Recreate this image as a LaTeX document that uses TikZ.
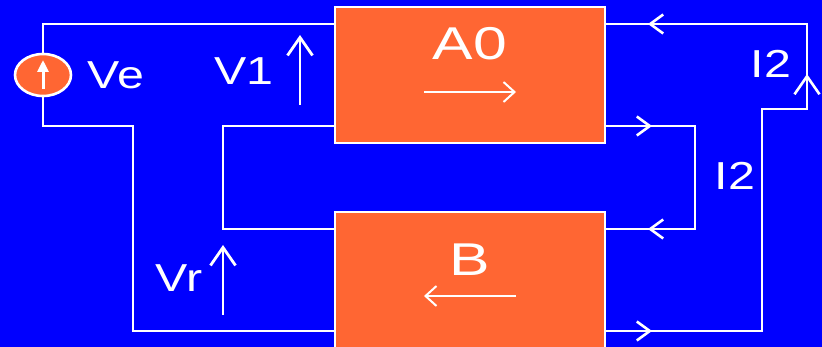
\documentclass[tikz,border=0pt]{standalone}
\usepackage{fontspec}
\setmainfont{Liberation Sans}
\newfontfamily\widefont[FakeStretch=1.24]{Liberation Sans}
\newfontfamily\titlefont[FakeStretch=1.32]{Liberation Sans}
\usetikzlibrary{arrows.meta,shapes.geometric}
\definecolor{bgblue}{RGB}{0,0,255}
\definecolor{boxorange}{RGB}{255,102,51}
\tikzset{
  wire/.style={draw=white,line width=2.6pt,line join=miter},
  block/.style={draw=white,line width=2.6pt,fill=boxorange,minimum width=270pt,minimum height=136pt,inner sep=0pt,outer sep=0pt},
  source/.style={ellipse,draw=white,line width=2.6pt,fill=boxorange,minimum width=56pt,minimum height=42pt,inner sep=0pt},
  chev/.style={draw=white,line width=2.6pt,-{Straight Barb[length=13pt,width=19pt,line width=2.6pt]}},
  tallchev/.style={draw=white,line width=2.6pt,-{Straight Barb[length=18pt,width=25pt,line width=2.6pt]}},
  longarrow/.style={draw=white,line width=2.8pt,-{Straight Barb[length=18pt,width=25pt,line width=2.8pt]}},
  thinarrow/.style={draw=white,line width=2pt,-{Straight Barb[length=11pt,width=20pt,line width=2pt]}},
  label/.style={text=white,inner sep=0pt,font=\widefont\fontsize{39}{39}\selectfont},
  title/.style={text=white,inner sep=0pt,font=\titlefont\fontsize{46}{46}\selectfont}
}
\begin{document}
\begin{tikzpicture}[x=1pt,y=-1pt]
\useasboundingbox (0,0) rectangle (822,347);
\clip (0,0) rectangle (822,347);
\fill[bgblue] (0,0) rectangle (822,347);
% blocks
\node[block] (A) at (470,75) {};
\node[block,minimum height=140pt,anchor=north] (B) at (470,212) {};
\node[source] (S) at (43,75) {};
% named points
\coordinate (A1) at (335,24);
\coordinate (A2) at (335,126);
\coordinate (B1) at (335,229);
\coordinate (B2) at (335,331);
\coordinate (A3) at (605,24);
\coordinate (A4) at (605,126);
\coordinate (B3) at (605,229);
\coordinate (B4) at (605,331);
% wires
\draw[wire] (S.north) -- (S.north |- A1) -- (A1);
\draw[wire] (S.south) -- (43,126) -- (133,126) -- (133,331) -- (B2);
\draw[wire] (A2) -- (223,126) -- (223,229) -- (B1);
\draw[wire] (A4) -- (695,126) -- (695,229) -- (B3);
\draw[wire] (A3) -- (807,24) -- (807,109) -- (762,109) -- (762,331) -- (B4);
% current chevrons
\coordinate (c1a) at (664,24); \coordinate (c1b) at (648,24);
\coordinate (c2a) at (636,126); \coordinate (c2b) at (652,126);
\coordinate (c3a) at (664,229); \coordinate (c3b) at (648,229);
\coordinate (c4a) at (636,331); \coordinate (c4b) at (652,331);
\coordinate (c5a) at (807,100); \coordinate (c5b) at (807,74);
\draw[chev] (c1a) -- (c1b);
\draw[chev] (c2a) -- (c2b);
\draw[chev] (c3a) -- (c3b);
\draw[chev] (c4a) -- (c4b);
\draw[tallchev] (c5a) -- (c5b);
% voltage arrows
\coordinate (v1a) at (300,105); \coordinate (v1b) at (300,35);
\coordinate (vra) at (223,315); \coordinate (vrb) at (223,245);
\draw[longarrow] (v1a) -- (v1b);
\draw[longarrow] (vra) -- (vrb);
% source arrow
\coordinate (sa) at (43,89); \coordinate (sb) at (43,60);
\draw[draw=white,line width=3pt,-{Triangle[length=12pt,width=11pt]}] (sa) -- (sb);
% block arrows
\coordinate (aa) at (424,92); \coordinate (ab) at (516,92);
\coordinate (ba) at (516,296); \coordinate (bb) at (424,296);
\draw[thinarrow] (aa) -- (ab);
\draw[thinarrow] (ba) -- (bb);
% labels
\node[title] (lA) at (470,44) {A0};
\node[title] (lB) at (470,260) {B};
\node[label] (lVe) at (116,75) {Ve};
\node[label] (lV1) at (244,71) {V1};
\node[label] (lVr) at (179,278) {Vr};
\node[label] (lI1) at (771,64) {I2};
\node[label] (lI2) at (735,176) {I2};
\end{tikzpicture}
\end{document}
